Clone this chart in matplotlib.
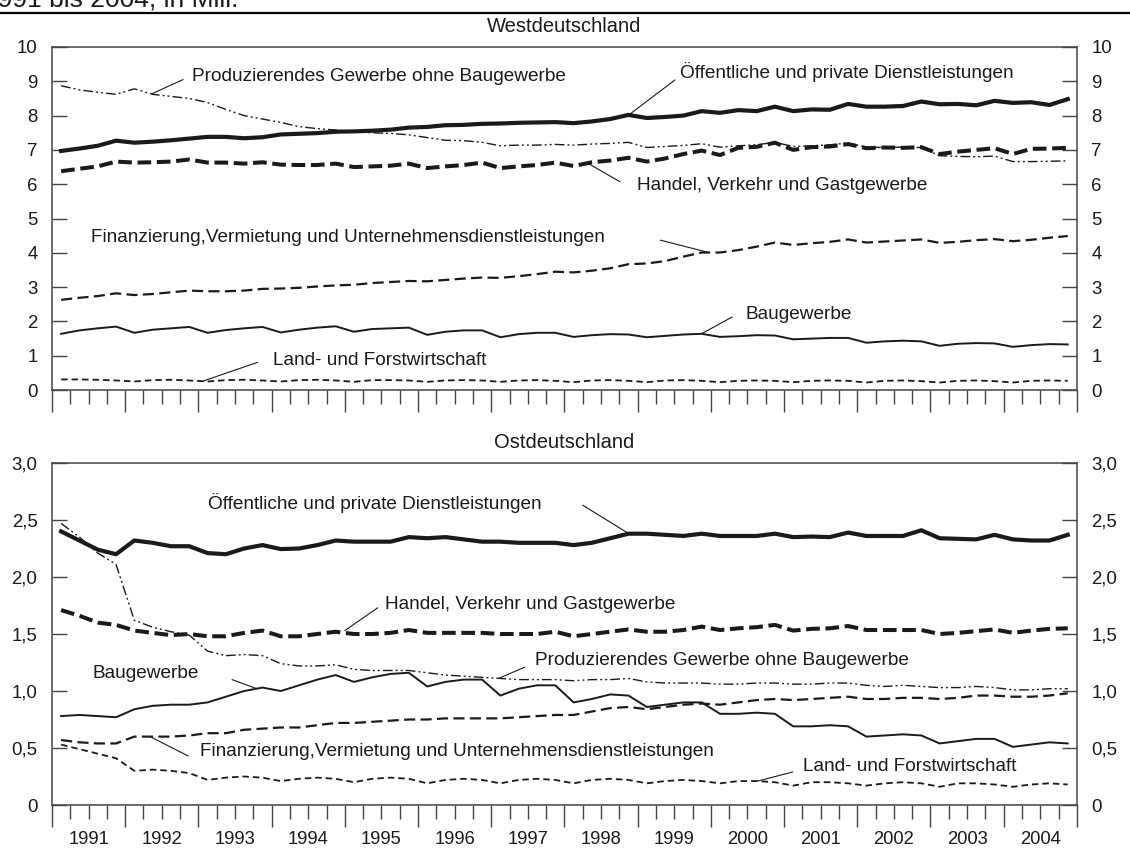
"""
Erwerbstätige nach Wirtschaftsbereichen, West- und Ostdeutschland,
Quartalswerte 1991 bis 2004, in Mill.
"""
import matplotlib
matplotlib.use("Agg")
import matplotlib.pyplot as plt
import matplotlib.transforms as mtransforms
import numpy as np
from matplotlib.ticker import FixedLocator

INK = "#1a1a1a"
AXC = "#444444"

YEARS = list(range(1991, 2005))

# quarterly values 1991Q1 .. 2004Q4, West
west_dl = [6.97, 7.04, 7.12, 7.27, 7.21, 7.24, 7.28, 7.33, 7.38, 7.38, 7.34, 7.37,
           7.45, 7.47, 7.49, 7.53, 7.54, 7.56, 7.59, 7.65, 7.67, 7.72, 7.73, 7.76,
           7.77, 7.79, 7.80, 7.81, 7.78, 7.83, 7.90, 8.02, 7.93, 7.96, 8.00, 8.13,
           8.08, 8.16, 8.13, 8.26, 8.13, 8.18, 8.17, 8.34, 8.26, 8.26, 8.28, 8.41,
           8.33, 8.34, 8.30, 8.43, 8.37, 8.39, 8.31, 8.48]
west_handel = [6.38, 6.45, 6.52, 6.66, 6.63, 6.64, 6.66, 6.72, 6.63, 6.63, 6.60, 6.64,
               6.57, 6.56, 6.56, 6.60, 6.50, 6.52, 6.54, 6.60, 6.47, 6.52, 6.56, 6.63,
               6.47, 6.52, 6.56, 6.63, 6.53, 6.64, 6.69, 6.77, 6.66, 6.75, 6.88, 6.98,
               6.85, 7.06, 7.09, 7.21, 7.00, 7.08, 7.10, 7.17, 7.05, 7.07, 7.06, 7.08,
               6.88, 6.95, 7.00, 7.05, 6.88, 7.03, 7.04, 7.06]
west_prod = [8.87, 8.75, 8.68, 8.62, 8.78, 8.62, 8.56, 8.50, 8.38, 8.18, 8.00, 7.90,
             7.80, 7.68, 7.62, 7.58, 7.53, 7.50, 7.48, 7.44, 7.36, 7.28, 7.27, 7.22,
             7.12, 7.14, 7.14, 7.16, 7.14, 7.17, 7.19, 7.22, 7.07, 7.10, 7.13, 7.18,
             7.08, 7.12, 7.15, 7.22, 7.10, 7.12, 7.15, 7.20, 7.08, 7.07, 7.08, 7.07,
             6.83, 6.81, 6.80, 6.82, 6.66, 6.66, 6.67, 6.68]
west_fin = [2.63, 2.69, 2.74, 2.82, 2.77, 2.80, 2.85, 2.90, 2.88, 2.88, 2.90, 2.95,
            2.96, 2.98, 3.02, 3.05, 3.07, 3.12, 3.15, 3.18, 3.17, 3.21, 3.25, 3.28,
            3.27, 3.32, 3.38, 3.45, 3.43, 3.48, 3.55, 3.67, 3.69, 3.76, 3.89, 4.01,
            4.01, 4.08, 4.18, 4.30, 4.23, 4.28, 4.32, 4.39, 4.30, 4.33, 4.36, 4.39,
            4.29, 4.32, 4.37, 4.40, 4.34, 4.38, 4.44, 4.49]
west_bau = [1.64, 1.74, 1.80, 1.85, 1.67, 1.76, 1.80, 1.84, 1.67, 1.75, 1.80, 1.84,
            1.68, 1.76, 1.82, 1.86, 1.70, 1.78, 1.80, 1.82, 1.61, 1.70, 1.74, 1.74,
            1.54, 1.63, 1.67, 1.67, 1.55, 1.60, 1.63, 1.62, 1.54, 1.58, 1.62, 1.64,
            1.55, 1.57, 1.60, 1.59, 1.48, 1.50, 1.52, 1.52, 1.38, 1.42, 1.44, 1.42,
            1.29, 1.35, 1.37, 1.36, 1.26, 1.31, 1.34, 1.33]
west_land = [0.31, 0.31, 0.30, 0.28, 0.25, 0.29, 0.30, 0.28, 0.25, 0.29, 0.30, 0.28,
             0.25, 0.29, 0.30, 0.28, 0.24, 0.29, 0.29, 0.28, 0.24, 0.28, 0.29, 0.28,
             0.24, 0.28, 0.29, 0.27, 0.23, 0.28, 0.29, 0.27, 0.23, 0.28, 0.29, 0.27,
             0.23, 0.27, 0.28, 0.27, 0.23, 0.27, 0.28, 0.27, 0.22, 0.27, 0.28, 0.26,
             0.22, 0.27, 0.28, 0.26, 0.22, 0.27, 0.28, 0.27]

# East
east_dl = [2.40, 2.32, 2.24, 2.20, 2.32, 2.30, 2.27, 2.27, 2.21, 2.20, 2.25, 2.28,
           2.245, 2.25, 2.28, 2.32, 2.31, 2.31, 2.31, 2.35, 2.34, 2.35, 2.33, 2.31,
           2.31, 2.30, 2.30, 2.30, 2.28, 2.30, 2.34, 2.38, 2.38, 2.37, 2.36, 2.38,
           2.36, 2.36, 2.36, 2.38, 2.35, 2.355, 2.35, 2.39, 2.36, 2.36, 2.36, 2.41,
           2.34, 2.335, 2.33, 2.37, 2.33, 2.32, 2.32, 2.37]
east_handel = [1.71, 1.66, 1.60, 1.58, 1.53, 1.51, 1.49, 1.50, 1.48, 1.48, 1.51, 1.53,
               1.48, 1.48, 1.50, 1.52, 1.50, 1.50, 1.51, 1.535, 1.51, 1.51, 1.51, 1.51,
               1.50, 1.50, 1.50, 1.52, 1.48, 1.50, 1.52, 1.54, 1.52, 1.52, 1.535, 1.565,
               1.535, 1.55, 1.56, 1.58, 1.53, 1.545, 1.55, 1.57, 1.535, 1.535, 1.535, 1.535,
               1.50, 1.51, 1.525, 1.54, 1.51, 1.53, 1.545, 1.55]
east_prod = [2.47, 2.35, 2.21, 2.11, 1.62, 1.56, 1.52, 1.49, 1.35, 1.31, 1.32, 1.31,
             1.24, 1.22, 1.22, 1.23, 1.19, 1.18, 1.18, 1.18, 1.16, 1.14, 1.13, 1.12,
             1.11, 1.10, 1.10, 1.10, 1.09, 1.10, 1.10, 1.11, 1.08, 1.07, 1.07, 1.07,
             1.06, 1.06, 1.07, 1.07, 1.06, 1.06, 1.07, 1.07, 1.05, 1.04, 1.05, 1.04,
             1.03, 1.03, 1.04, 1.03, 1.01, 1.01, 1.02, 1.02]
east_fin = [0.57, 0.55, 0.54, 0.54, 0.60, 0.60, 0.60, 0.61, 0.63, 0.63, 0.66, 0.67,
            0.68, 0.68, 0.70, 0.72, 0.72, 0.73, 0.74, 0.75, 0.75, 0.76, 0.76, 0.76,
            0.76, 0.77, 0.78, 0.79, 0.79, 0.82, 0.85, 0.86, 0.84, 0.86, 0.88, 0.89,
            0.88, 0.90, 0.92, 0.93, 0.92, 0.93, 0.94, 0.95, 0.93, 0.93, 0.94, 0.94,
            0.93, 0.94, 0.96, 0.96, 0.95, 0.95, 0.96, 0.98]
east_bau = [0.78, 0.79, 0.78, 0.77, 0.84, 0.87, 0.88, 0.88, 0.90, 0.95, 1.00, 1.03,
            1.00, 1.05, 1.10, 1.14, 1.08, 1.12, 1.15, 1.16, 1.04, 1.08, 1.10, 1.10,
            0.96, 1.02, 1.05, 1.05, 0.90, 0.93, 0.97, 0.96, 0.86, 0.88, 0.90, 0.90,
            0.80, 0.80, 0.81, 0.80, 0.69, 0.69, 0.70, 0.69, 0.60, 0.61, 0.62, 0.61,
            0.54, 0.56, 0.58, 0.58, 0.51, 0.53, 0.55, 0.54]
east_land = [0.53, 0.49, 0.45, 0.41, 0.30, 0.31, 0.30, 0.28, 0.22, 0.24, 0.25, 0.24,
             0.21, 0.23, 0.24, 0.23, 0.20, 0.23, 0.24, 0.23, 0.19, 0.22, 0.23, 0.22,
             0.19, 0.22, 0.23, 0.22, 0.19, 0.22, 0.23, 0.22, 0.19, 0.21, 0.22, 0.21,
             0.19, 0.21, 0.21, 0.20, 0.17, 0.20, 0.20, 0.19, 0.17, 0.19, 0.20, 0.19,
             0.16, 0.19, 0.19, 0.18, 0.16, 0.18, 0.19, 0.18]

LABEL_DL = "Öffentliche und private Dienstleistungen"
LABEL_HANDEL = "Handel, Verkehr und Gastgewerbe"
LABEL_PROD = "Produzierendes Gewerbe ohne Baugewerbe"
LABEL_FIN = "Finanzierung,Vermietung und Unternehmensdienstleistungen"
LABEL_BAU = "Baugewerbe"
LABEL_LAND = "Land- und Forstwirtschaft"

# line styles per sector
STYLES = {
    "dl":     dict(lw=3.0, ls="-"),
    "handel": dict(lw=2.9, dashes=(3.4, 1.4)),
    "prod":   dict(lw=1.0, dashes=(7, 2.2, 1.4, 2.2, 1.4, 2.2)),
    "fin":    dict(lw=1.6, dashes=(5.0, 2.4)),
    "bau":    dict(lw=1.4, ls="-"),
    "land":   dict(lw=1.3, dashes=(3.6, 2.2)),
}

quarter_x = np.array([y + (q + 0.5) / 4 for y in YEARS for q in range(4)])

plt.rcParams["font.family"] = ["Liberation Sans", "DejaVu Sans"]
plt.rcParams["font.size"] = 13.5

fig = plt.figure(figsize=(11.3, 8.48), dpi=100)
ax_w = fig.add_axes([0.046, 0.540, 0.907, 0.4046])
ax_e = fig.add_axes([0.046, 0.0507, 0.907, 0.4033])


def style_panel(ax, ymax, yticks, ylabels):
    ax.set_xlim(YEARS[0], YEARS[-1] + 1)
    ax.set_ylim(0, ymax)
    for s in ax.spines.values():
        s.set_color(AXC)
        s.set_linewidth(1.1)
    ax.yaxis.set_major_locator(FixedLocator(yticks))
    ax.set_yticklabels(ylabels)
    ax.tick_params(axis="y", which="major", direction="in", length=10.8,
                   width=1.0, color=AXC, left=True, right=True,
                   labelleft=True, labelright=True, pad=10.5, labelsize=13.4,
                   labelcolor=INK)
    majors = list(range(YEARS[0], YEARS[-1] + 2))
    minors = [y + q / 4 for y in YEARS for q in (1, 2, 3)]
    ax.xaxis.set_major_locator(FixedLocator(majors))
    ax.xaxis.set_minor_locator(FixedLocator(minors))
    ax.tick_params(axis="x", which="major", direction="out", length=15.8,
                   width=1.0, color=AXC, labelbottom=False)
    ax.tick_params(axis="x", which="minor", direction="out", length=10.0,
                   width=1.0, color=AXC)


def draw(ax, series):
    for key, vals in series:
        ax.plot(quarter_x, vals, color=INK, solid_joinstyle="round",
                dash_capstyle="butt", **STYLES[key])


def label(ax, text, pos, lead_from, lead_to):
    ax.text(pos[0], pos[1], text, ha="left", va="center", color=INK, fontsize=13.7)
    ax.annotate("", xy=lead_to, xytext=lead_from,
                arrowprops=dict(arrowstyle="-", lw=0.8, color=INK,
                                shrinkA=0, shrinkB=0))


style_panel(ax_w, 10, list(range(0, 11)), [str(v) for v in range(0, 11)])
draw(ax_w, [("fin", west_fin), ("bau", west_bau), ("land", west_land),
            ("prod", west_prod), ("handel", west_handel), ("dl", west_dl)])

label(ax_w, LABEL_PROD, (1992.91, 9.15), (1992.79, 9.05), (1992.37, 8.64))
label(ax_w, LABEL_DL, (1999.58, 9.27), (1999.51, 9.04), (1998.88, 8.02))
label(ax_w, LABEL_HANDEL, (1998.99, 5.95), (1998.76, 6.07), (1998.33, 6.60))
label(ax_w, LABEL_FIN, (1991.53, 4.46), (1999.31, 4.37), (1999.95, 4.02))
label(ax_w, LABEL_BAU, (2000.47, 2.19), (2000.29, 2.13), (1999.88, 1.65))
label(ax_w, LABEL_LAND, (1994.02, 0.87), (1993.81, 0.81), (1993.06, 0.26))

east_ticks = [0, 0.5, 1.0, 1.5, 2.0, 2.5, 3.0]
east_labels = ["0", "0,5", "1,0", "1,5", "2,0", "2,5", "3,0"]
style_panel(ax_e, 3.0, east_ticks, east_labels)
draw(ax_e, [("fin", east_fin), ("bau", east_bau), ("land", east_land),
            ("prod", east_prod), ("handel", east_handel), ("dl", east_dl)])

label(ax_e, LABEL_DL, (1993.13, 2.65), (1998.25, 2.63), (1998.88, 2.38))
label(ax_e, LABEL_HANDEL, (1995.55, 1.76), (1995.45, 1.73), (1995.0, 1.53))
label(ax_e, LABEL_PROD, (1997.6, 1.27), (1997.46, 1.21), (1997.1, 1.11))
label(ax_e, LABEL_BAU, (1991.55, 1.15), (1993.46, 1.10), (1993.8, 1.02))
label(ax_e, LABEL_FIN, (1993.02, 0.47), (1992.86, 0.43), (1992.34, 0.60))
label(ax_e, LABEL_LAND, (2001.26, 0.34), (2001.12, 0.29), (2000.64, 0.21))

# year labels centred in each year, below the lower panel
trans = mtransforms.blended_transform_factory(ax_e.transData, ax_e.transAxes)
for y in YEARS:
    ax_e.text(y + 0.5, -0.101, str(y), ha="center", va="center",
              transform=trans, fontsize=13.2, color=INK)

# panel titles
fig.text(0.4996, 1 - 27 / 848, "Westdeutschland", ha="center", va="center",
         fontsize=14.5, color=INK)
fig.text(0.4996, 1 - 443 / 848, "Ostdeutschland", ha="center", va="center",
         fontsize=14.5, color=INK)

# header remnant and rule
fig.text(238 / 1130, 1 - 7 / 848, "1991 bis 2004, in Mill.", ha="right",
         va="baseline", fontsize=19, color=INK)
fig.add_artist(plt.Line2D([0, 1], [1 - 13 / 848, 1 - 13 / 848],
                          transform=fig.transFigure, color="black", lw=1.6))

fig.savefig("out.png", dpi=100)
